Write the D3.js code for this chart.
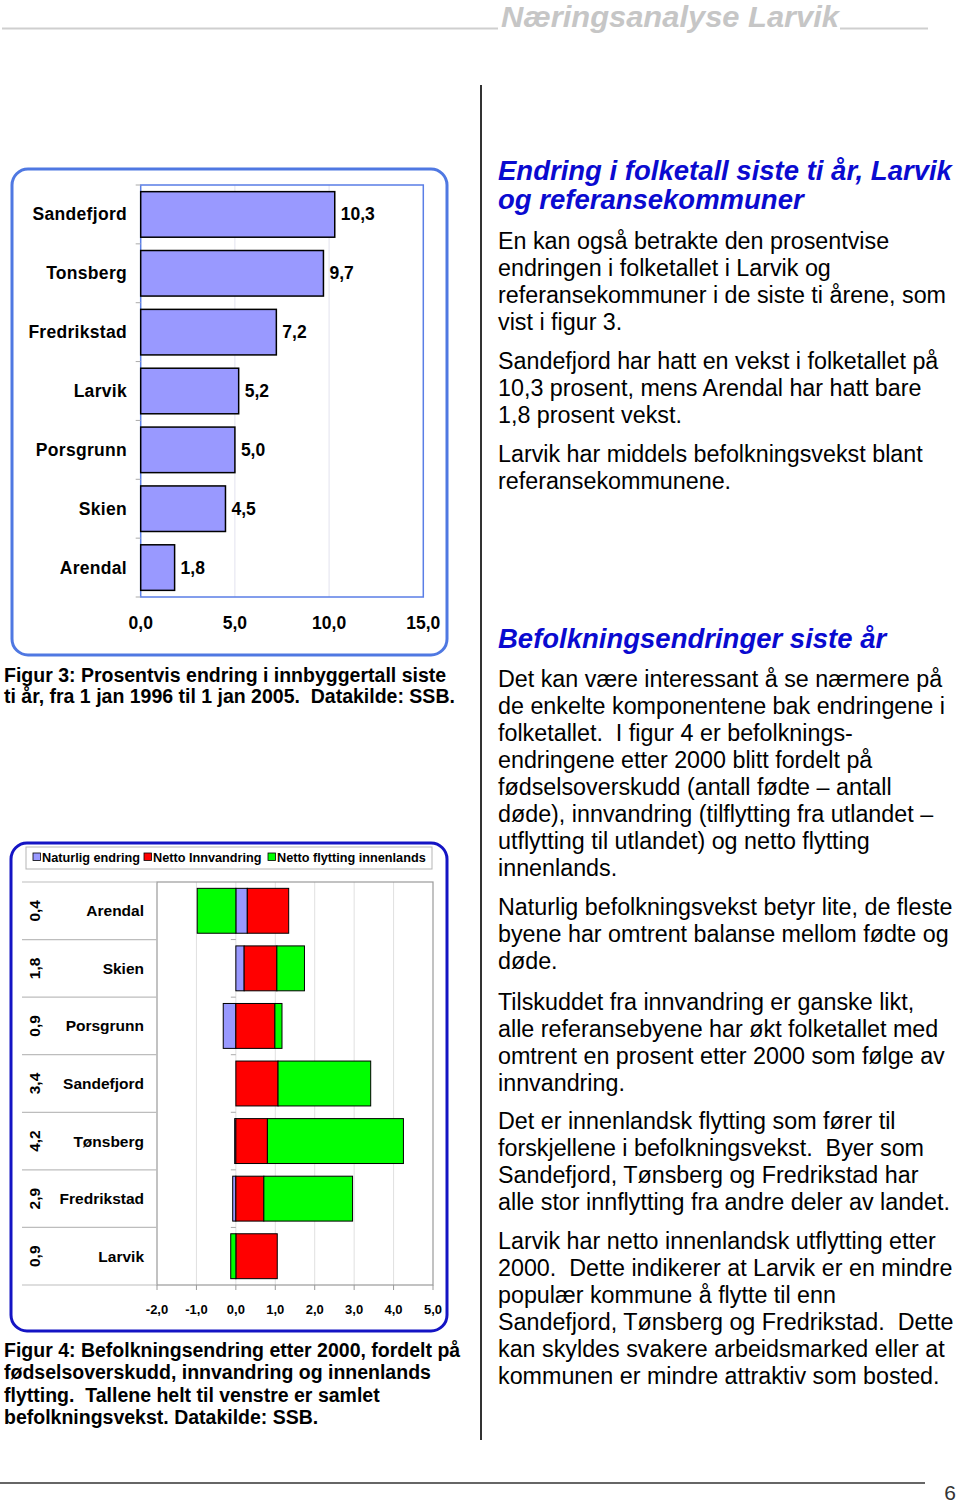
<!DOCTYPE html>
<html><head><meta charset="utf-8">
<script src="https://cdn.jsdelivr.net/npm/d3@7"></script>
<style>
body{margin:0;background:#fff;}
svg{display:block;font-family:"Liberation Sans",Arial,sans-serif;}
text{white-space:pre;}
</style></head>
<body><svg id="page" width="960" height="1506"></svg>
<script>
// ---- Figure 3 data
const fig3Categories = ["Sandefjord","Tonsberg","Fredrikstad","Larvik","Porsgrunn","Skien","Arendal"];
const fig3Values = [10.3, 9.7, 7.2, 5.2, 5.0, 4.5, 1.8];
const fig3Ticks = [0, 5, 10, 15];

// ---- Figure 4 data
const fig4Categories = ["Arendal","Skien","Porsgrunn","Sandefjord","Tønsberg","Fredrikstad","Larvik"];
const fig4Totals = [0.4, 1.8, 0.9, 3.4, 4.2, 2.9, 0.9];
const fig4Naturlig = [0.29, 0.21, -0.32, 0.0, -0.03, -0.08, 0.0];
const fig4Innvandring = [1.05, 0.83, 0.99, 1.07, 0.80, 0.71, 1.05];
const fig4Flytting = [-0.98, 0.70, 0.18, 2.35, 3.45, 2.25, -0.13];
const fig4SeriesNames = ["Naturlig endring","Netto Innvandring","Netto flytting innenlands"];
const fig4Ticks = [-2, -1, 0, 1, 2, 3, 4, 5];

const fmt = v => d3.format(".1f")(v).replace(".", ",").replace("\u2212", "-");
const svg = d3.select("#page");

// ---- Header
svg.append("line").attr("x1",2).attr("x2",498).attr("y1",28.5).attr("y2",28.5).attr("stroke","#cfcfcf").attr("stroke-width",2);
svg.append("line").attr("x1",840).attr("x2",928).attr("y1",28.5).attr("y2",28.5).attr("stroke","#cfcfcf").attr("stroke-width",2);
svg.append("text").attr("x",501).attr("y",27).attr("font-size",29).attr("font-weight","bold").attr("font-style","italic")
  .attr("fill","#c6c6c6").attr("textLength",338).attr("lengthAdjust","spacingAndGlyphs").text("Næringsanalyse Larvik");

// ---- Divider and footer
svg.append("line").attr("x1",481).attr("x2",481).attr("y1",85).attr("y2",1440).attr("stroke","#333").attr("stroke-width",2);
svg.append("line").attr("x1",0).attr("x2",925).attr("y1",1483).attr("y2",1483).attr("stroke","#333").attr("stroke-width",1.5);
svg.append("text").attr("x",950).attr("y",1500).attr("text-anchor","middle").attr("font-size",21).attr("fill","#333").text("6");

// ================= Figure 3 =================
const f3 = svg.append("g");
f3.append("rect").attr("x",12).attr("y",169).attr("width",435).attr("height",486).attr("rx",16)
  .attr("fill","#fff").attr("stroke","#4f78e2").attr("stroke-width",3);
const p3 = {l:140.7, r:423.3, t:185, b:597};
const x3 = d3.scaleLinear().domain([0,15]).range([p3.l,p3.r]);
const y3 = d3.scaleBand().domain(fig3Categories).range([p3.t,p3.b]).paddingInner(0.226).paddingOuter(0.113);
f3.selectAll(".g3").data(fig3Ticks.filter(d=>d>0&&d<15)).join("line")
  .attr("x1",d=>x3(d)).attr("x2",d=>x3(d)).attr("y1",p3.t).attr("y2",p3.b).attr("stroke","#e2e2ee").attr("stroke-width",1);
f3.append("rect").attr("x",p3.l).attr("y",p3.t).attr("width",p3.r-p3.l).attr("height",p3.b-p3.t)
  .attr("fill","none").attr("stroke","#5a7ee6").attr("stroke-width",1.5);
const step3 = y3.step();
f3.selectAll(".t3").data(d3.range(fig3Categories.length+1)).join("line")
  .attr("x1",p3.l-5).attr("x2",p3.l).attr("y1",i=>p3.t+i*step3).attr("y2",i=>p3.t+i*step3).attr("stroke","#aaa");
f3.selectAll(".b3").data(fig3Values).join("rect")
  .attr("x",x3(0)).attr("y",(d,i)=>y3(fig3Categories[i])).attr("width",d=>x3(d)-x3(0)).attr("height",y3.bandwidth())
  .attr("fill","#9999ff").attr("stroke","#000").attr("stroke-width",1.5);
f3.selectAll(".v3").data(fig3Values).join("text")
  .attr("x",d=>x3(d)+6).attr("y",(d,i)=>y3(fig3Categories[i])+y3.bandwidth()/2+6)
  .attr("font-size",17.5).attr("font-weight","bold").attr("fill","#000").text(d=>fmt(d));
f3.selectAll(".c3").data(fig3Categories).join("text")
  .attr("x",127).attr("y",d=>y3(d)+y3.bandwidth()/2+6).attr("text-anchor","end")
  .attr("font-size",17.5).attr("font-weight","bold").attr("letter-spacing",0.3).attr("fill","#000").text(d=>d);
f3.selectAll(".x3").data(fig3Ticks).join("text")
  .attr("x",d=>x3(d)).attr("y",629).attr("text-anchor","middle")
  .attr("font-size",17.5).attr("font-weight","bold").attr("fill","#000").text(d=>fmt(d));
const cap3 = ["Figur 3: Prosentvis endring i innbyggertall siste","ti år, fra 1 jan 1996 til 1 jan 2005.  Datakilde: SSB."];
svg.selectAll(".cap3").data(cap3).join("text").attr("x",4).attr("y",(d,i)=>682+i*21)
  .attr("font-size",19.5).attr("font-weight","bold").attr("fill","#000").text(d=>d);

// ================= Figure 4 =================
const f4 = svg.append("g");
f4.append("rect").attr("x",11).attr("y",843).attr("width",436).attr("height",488).attr("rx",16)
  .attr("fill","#fff").attr("stroke","#1414c4").attr("stroke-width",3);
f4.append("rect").attr("x",26).attr("y",847).attr("width",406).attr("height",22).attr("fill","#fff").attr("stroke","#b5b5b5");
const legColors = ["#9999ff","#ff0000","#00ff00"];
const legX = [33, 144, 268];
legX.forEach((lx,i)=>{
  f4.append("rect").attr("x",lx).attr("y",853).attr("width",7.5).attr("height",7.5).attr("fill",legColors[i]).attr("stroke","#000").attr("stroke-width",0.8);
  f4.append("text").attr("x",lx+9).attr("y",861.5).attr("font-size",12.7).attr("font-weight","bold").attr("fill","#000").text(fig4SeriesNames[i]);
});
const p4 = {l:157, r:433, t:882, b:1285};
const x4 = d3.scaleLinear().domain([-2,5]).range([p4.l,p4.r]);
const y4 = d3.scaleBand().domain(fig4Categories).range([p4.t,p4.b]).paddingInner(0.22).paddingOuter(0.11);
const step4 = y4.step();
f4.selectAll(".g4").data(fig4Ticks.filter(d=>d>-2&&d<5)).join("line")
  .attr("x1",d=>x4(d)).attr("x2",d=>x4(d)).attr("y1",p4.t).attr("y2",p4.b).attr("stroke","#e0e0e0");
f4.append("rect").attr("x",p4.l).attr("y",p4.t).attr("width",p4.r-p4.l).attr("height",p4.b-p4.t)
  .attr("fill","none").attr("stroke","#9a9a9a").attr("stroke-width",1.2);
f4.selectAll(".s4").data(d3.range(fig4Categories.length+1)).join("line")
  .attr("x1",22).attr("x2",p4.l).attr("y1",i=>p4.t+i*step4).attr("y2",i=>p4.t+i*step4).attr("stroke","#bdbdbd").attr("stroke-width",1.2);
f4.selectAll(".t4").data(d3.range(1,fig4Categories.length)).join("line")
  .attr("x1",x4(0)-5).attr("x2",x4(0)).attr("y1",i=>p4.t+i*step4).attr("y2",i=>p4.t+i*step4).attr("stroke","#aaa");
f4.selectAll(".xt4").data(fig4Ticks).join("line")
  .attr("x1",d=>x4(d)).attr("x2",d=>x4(d)).attr("y1",p4.b).attr("y2",p4.b+5).attr("stroke","#9a9a9a");
const rows = fig4Categories.map((c,i)=>({cat:c, nat:fig4Naturlig[i], inn:fig4Innvandring[i], fly:fig4Flytting[i]}));
const stack = d3.stack().keys(["nat","inn","fly"]).offset(d3.stackOffsetDiverging)(rows);
f4.selectAll(".ser").data(stack).join("g").attr("fill",(d,i)=>legColors[i])
  .selectAll("rect").data(d=>d.filter(s=>s[1]!==s[0])).join("rect")
  .attr("x",s=>x4(Math.min(s[0],s[1]))).attr("width",s=>Math.abs(x4(s[1])-x4(s[0])))
  .attr("y",s=>y4(s.data.cat)).attr("height",y4.bandwidth())
  .attr("stroke","#000").attr("stroke-width",1);
f4.selectAll(".c4").data(fig4Categories).join("text")
  .attr("x",144).attr("y",d=>y4(d)+y4.bandwidth()/2+5.5).attr("text-anchor","end")
  .attr("font-size",15.5).attr("font-weight","bold").attr("fill","#000").text(d=>d);
f4.selectAll(".tot4").data(fig4Totals).join("text")
  .attr("transform",(d,i)=>`translate(40,${y4(fig4Categories[i])+y4.bandwidth()/2}) rotate(-90)`)
  .attr("text-anchor","middle").attr("font-size",15.5).attr("font-weight","bold").attr("fill","#000").text(d=>fmt(d));
f4.selectAll(".xl4").data(fig4Ticks).join("text")
  .attr("x",d=>x4(d)).attr("y",1313.5).attr("text-anchor","middle")
  .attr("font-size",13).attr("font-weight","bold").attr("fill","#000").text(d=>fmt(d));
const cap4 = ["Figur 4: Befolkningsendring etter 2000, fordelt på","fødselsoverskudd, innvandring og innenlands","flytting.  Tallene helt til venstre er samlet","befolkningsvekst. Datakilde: SSB."];
svg.selectAll(".cap4").data(cap4).join("text").attr("x",4).attr("y",(d,i)=>1357+i*22.3)
  .attr("font-size",19.5).attr("font-weight","bold").attr("fill","#000").text(d=>d);

// ================= Right column text =================
const headings = [
  {y:180, t:"Endring i folketall siste ti år, Larvik"},
  {y:209, t:"og referansekommuner"},
  {y:648, t:"Befolkningsendringer siste år"}
];
svg.selectAll(".hd").data(headings).join("text").attr("x",498).attr("y",d=>d.y)
  .attr("font-size",27.5).attr("font-weight","bold").attr("font-style","italic").attr("fill","#0a0ad0").text(d=>d.t);

const paragraphs = [
  {y:249, lines:["En kan også betrakte den prosentvise","endringen i folketallet i Larvik og","referansekommuner i de siste ti årene, som","vist i figur 3."]},
  {y:369, lines:["Sandefjord har hatt en vekst i folketallet på","10,3 prosent, mens Arendal har hatt bare","1,8 prosent vekst."]},
  {y:462, lines:["Larvik har middels befolkningsvekst blant","referansekommunene."]},
  {y:687, lines:["Det kan være interessant å se nærmere på","de enkelte komponentene bak endringene i","folketallet.  I figur 4 er befolknings-","endringene etter 2000 blitt fordelt på","fødselsoverskudd (antall fødte – antall","døde), innvandring (tilflytting fra utlandet –","utflytting til utlandet) og netto flytting","innenlands."]},
  {y:915, lines:["Naturlig befolkningsvekst betyr lite, de fleste","byene har omtrent balanse mellom fødte og","døde."]},
  {y:1010, lines:["Tilskuddet fra innvandring er ganske likt,","alle referansebyene har økt folketallet med","omtrent en prosent etter 2000 som følge av","innvandring."]},
  {y:1129, lines:["Det er innenlandsk flytting som fører til","forskjellene i befolkningsvekst.  Byer som","Sandefjord, Tønsberg og Fredrikstad har","alle stor innflytting fra andre deler av landet."]},
  {y:1249, lines:["Larvik har netto innenlandsk utflytting etter","2000.  Dette indikerer at Larvik er en mindre","populær kommune å flytte til enn","Sandefjord, Tønsberg og Fredrikstad.  Dette","kan skyldes svakere arbeidsmarked eller at","kommunen er mindre attraktiv som bosted."]}
];
paragraphs.forEach(p=>{
  svg.append("g").selectAll("text").data(p.lines).join("text")
    .attr("x",498).attr("y",(d,i)=>p.y+i*27).attr("font-size",23.3).attr("fill","#000").text(d=>d);
});
</script></body></html>
